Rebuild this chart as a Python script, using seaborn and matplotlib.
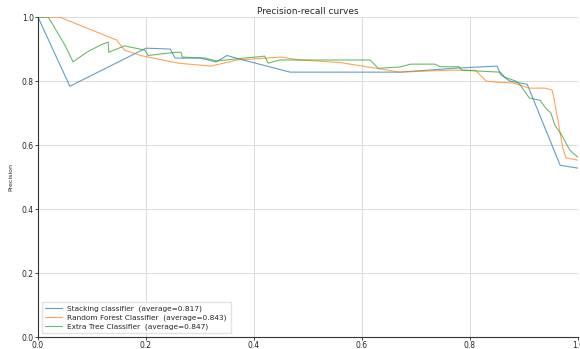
import numpy as np
import pandas as pd
import seaborn as sns
import matplotlib.pyplot as plt

# values
stack_recall = [0.0, 0.059, 0.2, 0.245, 0.254, 0.3, 0.33, 0.35, 0.38, 0.467, 0.67,
                0.77, 0.85, 0.857, 0.874, 0.906, 0.967, 1.0]
stack_prec = [1.0, 0.784, 0.903, 0.9, 0.872, 0.872, 0.86, 0.88, 0.866, 0.828, 0.828,
              0.84, 0.847, 0.82, 0.80, 0.79, 0.537, 0.528]

rf_recall = [0.0, 0.04, 0.146, 0.16, 0.19, 0.26, 0.32, 0.37, 0.45, 0.485, 0.56, 0.67,
             0.76, 0.81, 0.83, 0.846, 0.88, 0.91, 0.939, 0.952, 0.955, 0.963, 0.972,
             0.978, 1.0]
rf_prec = [1.0, 1.0, 0.928, 0.897, 0.88, 0.856, 0.847, 0.866, 0.875, 0.866, 0.858, 0.828,
           0.834, 0.834, 0.80, 0.797, 0.794, 0.778, 0.778, 0.772, 0.75, 0.678, 0.59,
           0.56, 0.553]

et_recall = [0.0, 0.019, 0.05, 0.065, 0.09, 0.115, 0.13, 0.131, 0.16, 0.198, 0.204,
             0.254, 0.265, 0.267, 0.31, 0.33, 0.383, 0.42, 0.426, 0.448, 0.47, 0.615,
             0.63, 0.67, 0.69, 0.735, 0.745, 0.78, 0.785, 0.856, 0.865, 0.885, 0.893,
             0.91, 0.93, 0.94, 0.95, 0.957, 0.97, 0.985, 1.0]
et_prec = [1.0, 1.0, 0.912, 0.86, 0.89, 0.912, 0.922, 0.89, 0.91, 0.897, 0.88,
           0.89, 0.89, 0.875, 0.872, 0.863, 0.872, 0.878, 0.856, 0.866, 0.866, 0.866,
           0.84, 0.844, 0.853, 0.853, 0.845, 0.845, 0.834, 0.828, 0.812, 0.80, 0.788,
           0.747, 0.74, 0.716, 0.70, 0.663, 0.631, 0.584, 0.562]

labels = ["Stacking classifier  (average=0.817)",
          "Random Forest Classifier  (average=0.843)",
          "Extra Tree Classifier  (average=0.847)"]

sns.set_style("whitegrid")
plt.rcParams["font.family"] = ["DejaVu Sans"]

fig = plt.figure(figsize=(5.8, 3.49), dpi=100)
ax = fig.add_axes([0.0655, 0.034, 0.931, 0.917])

colors = sns.color_palette("tab10", 3)
for (r, p), lab, c in zip([(stack_recall, stack_prec), (rf_recall, rf_prec),
                           (et_recall, et_prec)], labels, colors):
    df = pd.DataFrame({"Recall": r, "Precision": p})
    sns.lineplot(data=df, x="Recall", y="Precision", sort=False, estimator=None,
                 ax=ax, color=c, linewidth=0.8, alpha=0.7, label=lab)

ax.set_xlim(0, 1)
ax.set_ylim(0, 1)
ax.set_xticks(np.arange(0, 1.01, 0.2))
ax.set_yticks(np.arange(0, 1.01, 0.2))
ax.tick_params(labelsize=5.5, length=2, width=0.6, left=True, bottom=True, pad=1)
ax.grid(color="#d6d6d6", linewidth=0.6)
for s in ["top", "right"]:
    ax.spines[s].set_visible(False)
for s in ["left", "bottom"]:
    ax.spines[s].set_color("#333333")
    ax.spines[s].set_linewidth(0.8)
ax.set_title("Precision-recall curves", fontsize=6.5, pad=2)
ax.set_ylabel("Precision", fontsize=4.5, labelpad=6)
ax.set_xlabel("Recall", fontsize=4.5, labelpad=0)
ax.legend(loc="lower left", fontsize=5.3, frameon=True, handlelength=2.2,
          borderpad=0.5, labelspacing=0.3, fancybox=False, edgecolor="#dddddd")

fig.savefig("out.png", dpi=100)
